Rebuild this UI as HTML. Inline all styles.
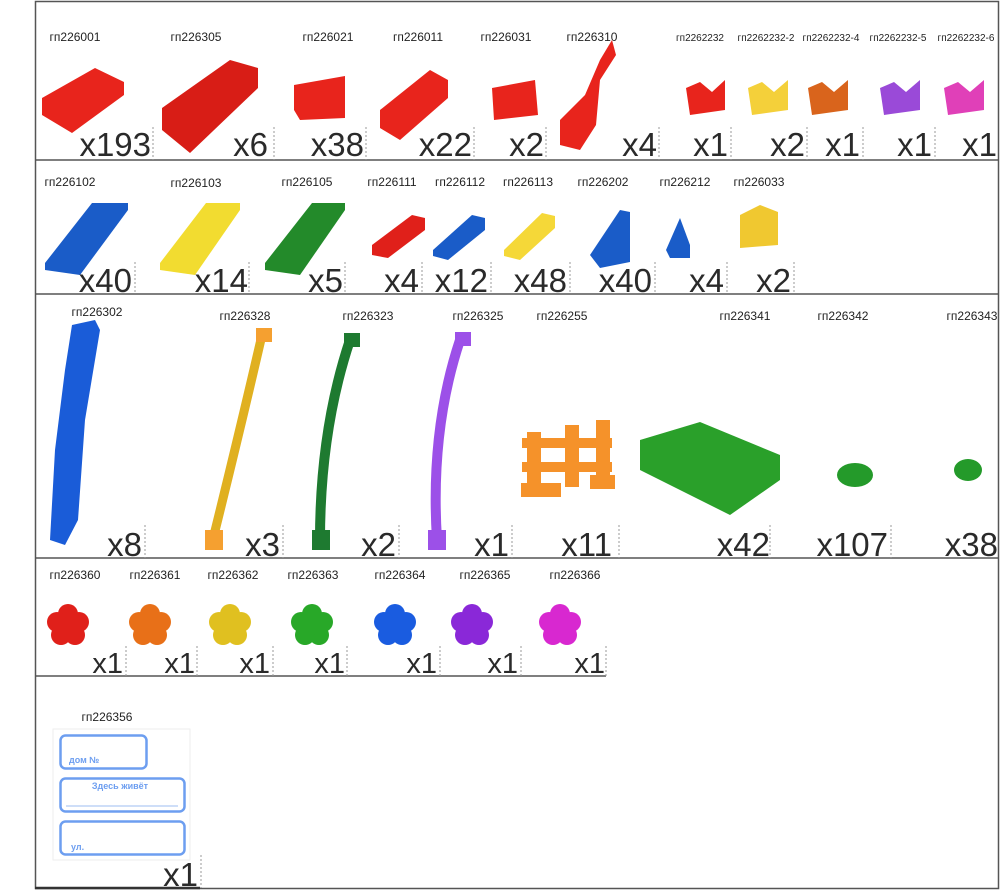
<!DOCTYPE html>
<html><head><meta charset="utf-8"><style>
html,body{margin:0;padding:0;background:#fff}
svg{display:block}
text{font-family:"Liberation Sans",sans-serif;fill:#222}
.l{font-size:12px;text-anchor:middle}
.s{font-size:10px;text-anchor:middle}
.c{font-size:33px;text-anchor:end;fill:#2a2a2a}
.c2{font-size:29px;text-anchor:end;fill:#2a2a2a}
.d{stroke:#999;stroke-width:1;stroke-dasharray:2,2}
</style></head><body>
<svg width="1000" height="890" viewBox="0 0 1000 890" xmlns="http://www.w3.org/2000/svg">
<defs>
<g id="fl"><circle cx="0" cy="-11" r="10"/><circle cx="11" cy="-3" r="10"/><circle cx="7" cy="10" r="10"/><circle cx="-7" cy="10" r="10"/><circle cx="-11" cy="-3" r="10"/><circle cx="0" cy="1" r="9"/></g>
</defs>
<rect x="35.5" y="1.5" width="963" height="887" fill="none" stroke="#555" stroke-width="1.5"/>
<line x1="35" y1="160" x2="999" y2="160" stroke="#555" stroke-width="1.5"/>
<line x1="35" y1="294" x2="999" y2="294" stroke="#555" stroke-width="1.5"/>
<line x1="35" y1="558" x2="999" y2="558" stroke="#555" stroke-width="1.5"/>
<line x1="35" y1="676" x2="606" y2="676" stroke="#555" stroke-width="1.5"/>
<line x1="35" y1="888" x2="200" y2="888" stroke="#333" stroke-width="2.5"/>

<g fill="#e8241c">
<polygon points="42,98 95,68 124,82 124,95 72,133 42,115"/>
<polygon points="162,108 230,60 258,68 258,88 190,153 162,130" fill="#d81d16"/>
<polygon points="294,85 345,76 345,118 300,120 294,110"/>
<polygon points="380,110 430,70 448,80 448,98 400,140 380,128"/>
<polygon points="492,88 535,80 538,115 494,120"/>
<polygon points="560,120 585,95 600,60 612,40 616,55 600,80 596,125 580,150 560,145"/>
<polygon points="686,88 700,82 712,92 725,80 725,110 690,115"/>
</g>
<polygon points="748,88 762,82 774,92 788,80 788,110 752,115" fill="#f4d03a"/>
<polygon points="808,88 822,82 834,92 848,80 848,110 812,115" fill="#d9641c"/>
<polygon points="880,88 894,82 906,92 920,80 920,110 884,115" fill="#9a4ad8"/>
<polygon points="944,88 958,82 970,92 984,80 984,110 948,115" fill="#e040b8"/>
<g>
<text class="l" x="75" y="41">гп226001</text>
<text class="l" x="196" y="41">гп226305</text>
<text class="l" x="328" y="41">гп226021</text>
<text class="l" x="418" y="41">гп226011</text>
<text class="l" x="506" y="41">гп226031</text>
<text class="l" x="592" y="41">гп226310</text>
<text class="s" x="700" y="41">гп2262232</text>
<text class="s" x="766" y="41">гп2262232-2</text>
<text class="s" x="831" y="41">гп2262232-4</text>
<text class="s" x="898" y="41">гп2262232-5</text>
<text class="s" x="966" y="41">гп2262232-6</text>
</g>
<g>
<text class="c" x="151" y="156">x193</text><line class="d" x1="153" y1="127" x2="153" y2="160"/>
<text class="c" x="268" y="156">x6</text><line class="d" x1="274" y1="127" x2="274" y2="160"/>
<text class="c" x="364" y="156">x38</text><line class="d" x1="366" y1="127" x2="366" y2="160"/>
<text class="c" x="472" y="156">x22</text><line class="d" x1="474" y1="127" x2="474" y2="160"/>
<text class="c" x="544" y="156">x2</text><line class="d" x1="546" y1="127" x2="546" y2="160"/>
<text class="c" x="657" y="156">x4</text><line class="d" x1="659" y1="127" x2="659" y2="160"/>
<text class="c" x="728" y="156">x1</text><line class="d" x1="731" y1="127" x2="731" y2="160"/>
<text class="c" x="805" y="156">x2</text><line class="d" x1="807" y1="127" x2="807" y2="160"/>
<text class="c" x="860" y="156">x1</text><line class="d" x1="863" y1="127" x2="863" y2="160"/>
<text class="c" x="932" y="156">x1</text><line class="d" x1="935" y1="127" x2="935" y2="160"/>
<text class="c" x="997" y="156">x1</text>
</g>

<polygon points="45,263 92,203 128,203 128,210 80,275 45,270" fill="#1a5cc8"/>
<polygon points="160,263 206,203 240,203 240,210 195,275 160,270" fill="#f2dc30"/>
<polygon points="265,263 312,203 345,203 345,210 300,275 265,270" fill="#238a2a"/>
<polygon points="372,245 412,215 425,218 425,230 388,258 372,255" fill="#e0201a"/>
<polygon points="433,250 472,215 485,218 485,230 448,260 433,256" fill="#1a5cc8"/>
<polygon points="504,250 542,213 555,216 555,228 520,260 504,256" fill="#f5d838"/>
<polygon points="590,255 620,210 630,212 630,262 600,268" fill="#1a5cc8"/>
<polygon points="666,250 680,218 690,245 690,258 670,258" fill="#1a5cc8"/>
<polygon points="740,215 760,205 778,212 778,245 740,248" fill="#f0c830"/>
<g>
<text class="l" x="70" y="186">гп226102</text>
<text class="l" x="196" y="187">гп226103</text>
<text class="l" x="307" y="186">гп226105</text>
<text class="l" x="392" y="186">гп226111</text>
<text class="l" x="460" y="186">гп226112</text>
<text class="l" x="528" y="186">гп226113</text>
<text class="l" x="603" y="186">гп226202</text>
<text class="l" x="685" y="186">гп226212</text>
<text class="l" x="759" y="186">гп226033</text>
</g>
<g>
<text class="c" x="132" y="292">x40</text><line class="d" x1="135" y1="262" x2="135" y2="294"/>
<text class="c" x="248" y="292">x14</text><line class="d" x1="249" y1="262" x2="249" y2="294"/>
<text class="c" x="343" y="292">x5</text><line class="d" x1="345" y1="262" x2="345" y2="294"/>
<text class="c" x="419" y="292">x4</text><line class="d" x1="422" y1="262" x2="422" y2="294"/>
<text class="c" x="488" y="292">x12</text><line class="d" x1="491" y1="262" x2="491" y2="294"/>
<text class="c" x="567" y="292">x48</text><line class="d" x1="570" y1="262" x2="570" y2="294"/>
<text class="c" x="652" y="292">x40</text><line class="d" x1="655" y1="262" x2="655" y2="294"/>
<text class="c" x="724" y="292">x4</text><line class="d" x1="727" y1="262" x2="727" y2="294"/>
<text class="c" x="791" y="292">x2</text><line class="d" x1="794" y1="262" x2="794" y2="294"/>
</g>

<polygon points="72,325 95,320 100,330 85,420 78,520 65,545 50,540 55,450 65,370" fill="#1a5cd8"/>
<path d="M262,335 Q240,430 214,535" stroke="#e0b020" stroke-width="9" fill="none"/>
<rect x="256" y="328" width="16" height="14" fill="#f5a030"/><rect x="205" y="530" width="18" height="20" fill="#f5a030"/>
<path d="M350,340 Q320,430 320,540" stroke="#1e7a30" stroke-width="10" fill="none"/>
<rect x="344" y="333" width="16" height="14" fill="#1e7a30"/><rect x="312" y="530" width="18" height="20" fill="#1e7a30"/>
<path d="M460,340 Q430,430 437,540" stroke="#9c50e8" stroke-width="10" fill="none"/>
<rect x="455" y="332" width="16" height="14" fill="#9c50e8"/><rect x="428" y="530" width="18" height="20" fill="#9c50e8"/>
<g fill="#f5922a">
<rect x="527" y="432" width="14" height="60"/><rect x="565" y="425" width="14" height="62"/><rect x="596" y="420" width="14" height="60"/>
<rect x="522" y="438" width="90" height="10"/><rect x="522" y="462" width="90" height="10"/>
<rect x="521" y="483" width="40" height="14"/><rect x="590" y="475" width="25" height="14"/>
</g>
<polygon points="640,440 700,422 780,455 780,480 730,515 640,470" fill="#2aa02a"/>
<ellipse cx="855" cy="475" rx="18" ry="12" fill="#249a2a"/>
<ellipse cx="968" cy="470" rx="14" ry="11" fill="#249a2a"/>
<g>
<text class="l" x="97" y="316">гп226302</text>
<text class="l" x="245" y="320">гп226328</text>
<text class="l" x="368" y="320">гп226323</text>
<text class="l" x="478" y="320">гп226325</text>
<text class="l" x="562" y="320">гп226255</text>
<text class="l" x="745" y="320">гп226341</text>
<text class="l" x="843" y="320">гп226342</text>
<text class="l" x="972" y="320">гп226343</text>
</g>
<g>
<text class="c" x="142" y="556">x8</text><line class="d" x1="145" y1="525" x2="145" y2="558"/>
<text class="c" x="280" y="556">x3</text><line class="d" x1="283" y1="525" x2="283" y2="558"/>
<text class="c" x="396" y="556">x2</text><line class="d" x1="399" y1="525" x2="399" y2="558"/>
<text class="c" x="509" y="556">x1</text><line class="d" x1="512" y1="525" x2="512" y2="558"/>
<text class="c" x="612" y="556">x11</text><line class="d" x1="619" y1="525" x2="619" y2="558"/>
<text class="c" x="770" y="556">x42</text><line class="d" x1="770" y1="525" x2="770" y2="558"/>
<text class="c" x="888" y="556">x107</text><line class="d" x1="891" y1="525" x2="891" y2="558"/>
<text class="c" x="998" y="556">x38</text>
</g>

<use href="#fl" x="68" y="625" fill="#e0201a"/>
<use href="#fl" x="150" y="625" fill="#e87018"/>
<use href="#fl" x="230" y="625" fill="#e0c020"/>
<use href="#fl" x="312" y="625" fill="#28a828"/>
<use href="#fl" x="395" y="625" fill="#1a5ce0"/>
<use href="#fl" x="472" y="625" fill="#8a28d8"/>
<use href="#fl" x="560" y="625" fill="#d828d0"/>
<g>
<text class="l" x="75" y="579">гп226360</text>
<text class="l" x="155" y="579">гп226361</text>
<text class="l" x="233" y="579">гп226362</text>
<text class="l" x="313" y="579">гп226363</text>
<text class="l" x="400" y="579">гп226364</text>
<text class="l" x="485" y="579">гп226365</text>
<text class="l" x="575" y="579">гп226366</text>
</g>
<g>
<text class="c2" x="123" y="673">x1</text><line class="d" x1="126" y1="646" x2="126" y2="676"/>
<text class="c2" x="195" y="673">x1</text><line class="d" x1="197" y1="646" x2="197" y2="676"/>
<text class="c2" x="270" y="673">x1</text><line class="d" x1="273" y1="646" x2="273" y2="676"/>
<text class="c2" x="345" y="673">x1</text><line class="d" x1="347" y1="646" x2="347" y2="676"/>
<text class="c2" x="437" y="673">x1</text><line class="d" x1="440" y1="646" x2="440" y2="676"/>
<text class="c2" x="518" y="673">x1</text><line class="d" x1="521" y1="646" x2="521" y2="676"/>
<text class="c2" x="605" y="673">x1</text><line class="d" x1="606" y1="646" x2="606" y2="676"/>
</g>

<text class="l" x="107" y="721">гп226356</text>
<rect x="53" y="729" width="137" height="131" fill="none" stroke="#eee"/>
<rect x="60.5" y="735.5" width="86" height="33" rx="5" fill="none" stroke="#6d9ef0" stroke-width="2.5"/>
<rect x="60.5" y="778.5" width="124" height="33" rx="5" fill="none" stroke="#6d9ef0" stroke-width="2.5"/>
<rect x="60.5" y="821.5" width="124" height="33" rx="5" fill="none" stroke="#6d9ef0" stroke-width="2.5"/>
<line x1="66" y1="806" x2="178" y2="806" stroke="#9dbcf0" stroke-width="1"/>
<text x="69" y="763" style="font-size:9px;font-weight:bold;fill:#6d9ef0">дом №</text>
<text x="120" y="789" style="font-size:9px;font-weight:bold;fill:#6d9ef0;text-anchor:middle">Здесь живёт</text>
<text x="71" y="850" style="font-size:9px;font-weight:bold;fill:#6d9ef0">ул.</text>
<text class="c" x="198" y="886">x1</text><line class="d" x1="201" y1="855" x2="201" y2="888"/>
</svg>
</body></html>
